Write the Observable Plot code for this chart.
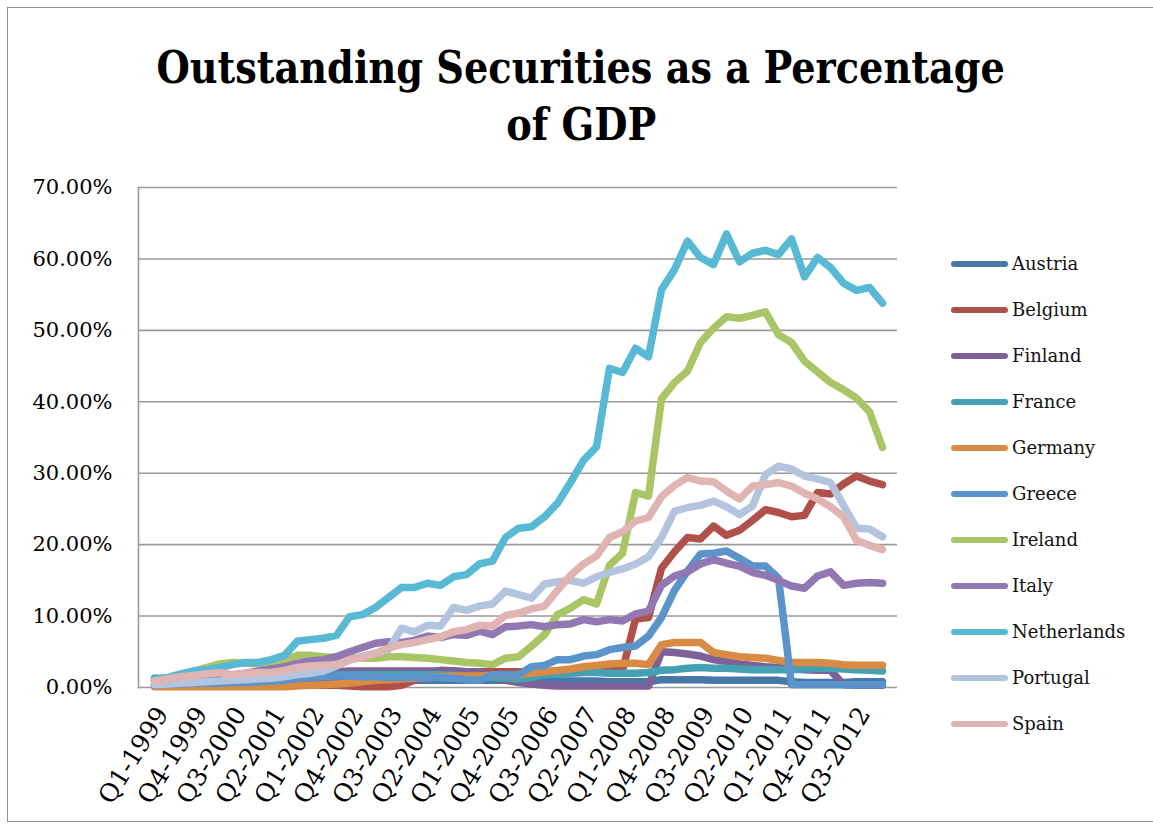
<!DOCTYPE html>
<html><head><meta charset="utf-8">
<script src="https://cdn.jsdelivr.net/npm/d3@7"></script>
<script src="https://cdn.jsdelivr.net/npm/@observablehq/plot@0.6"></script>
<style>
body{margin:0;background:#fff;}
#wrap{position:relative;width:1153px;height:827px;overflow:hidden;background:#fff;}
#border{position:absolute;left:7px;top:7px;width:1170px;height:815px;border:1.5px solid #8e8e8e;box-sizing:border-box;}
.tl{position:absolute;left:0;width:1162px;text-align:center;font-family:"DejaVu Serif",serif;font-weight:bold;font-size:44px;line-height:44px;white-space:nowrap;color:#000;}
.tl span{display:inline-block;transform-origin:center center;}
#chart{position:absolute;left:0;top:167px;}
.lg{position:absolute;left:951px;height:24px;font-family:"DejaVu Serif",serif;font-size:18px;color:#111;white-space:nowrap;}
.lg .sw{position:absolute;left:0;top:9px;width:57px;height:6px;border-radius:3px;}
.lg .tx{position:absolute;left:61px;top:0;line-height:24px;}
</style></head>
<body>
<div id="wrap">
  <div id="border"></div>
  <div class="tl" id="t1" style="top:46px"><span>Outstanding Securities as a Percentage</span></div>
  <div class="tl" id="t2" style="top:103px"><span>of GDP</span></div>
  <div id="chart"></div>
  <div id="legend"></div>
</div>
<script>
const quarters = ["Q1-1999","Q2-1999","Q3-1999","Q4-1999","Q1-2000","Q2-2000","Q3-2000","Q4-2000","Q1-2001","Q2-2001","Q3-2001","Q4-2001","Q1-2002","Q2-2002","Q3-2002","Q4-2002","Q1-2003","Q2-2003","Q3-2003","Q4-2003","Q1-2004","Q2-2004","Q3-2004","Q4-2004","Q1-2005","Q2-2005","Q3-2005","Q4-2005","Q1-2006","Q2-2006","Q3-2006","Q4-2006","Q1-2007","Q2-2007","Q3-2007","Q4-2007","Q1-2008","Q2-2008","Q3-2008","Q4-2008","Q1-2009","Q2-2009","Q3-2009","Q4-2009","Q1-2010","Q2-2010","Q3-2010","Q4-2010","Q1-2011","Q2-2011","Q3-2011","Q4-2011","Q1-2012","Q2-2012","Q3-2012","Q4-2012","Q1-2013"];
const xTickLabels = ["Q1-1999","Q4-1999","Q3-2000","Q2-2001","Q1-2002","Q4-2002","Q3-2003","Q2-2004","Q1-2005","Q4-2005","Q3-2006","Q2-2007","Q1-2008","Q4-2008","Q3-2009","Q2-2010","Q1-2011","Q4-2011","Q3-2012"];
const yTicks = [0,10,20,30,40,50,60,70];
const countries = ["Austria","Belgium","Finland","France","Germany","Greece","Ireland","Italy","Netherlands","Portugal","Spain"];
const colors = ["#4878a8","#b0504a","#7c6299","#45a0b4","#da8b43","#5b94cb","#a9c566","#9178b3","#57b9d3","#b2c4de","#e0b4b2"];

const austria = [1.0,1.0,0.9,0.9,0.9,0.9,0.9,0.9,0.9,0.9, 0.9,1.0,1.0,1.0,1.0,1.0,1.0,1.0,1.0,1.0, 1.0,1.0,1.0,1.0,1.0,1.0,1.0,1.0,1.0,1.0, 1.0,0.9,0.9,0.9,0.9,0.8,0.8,0.8,0.8,1.1, 1.1,1.1,1.1,1.0,1.0,1.0,1.0,1.0,1.0,0.8, 0.7,0.7,0.7,0.7,0.8,0.8,0.8];
const belgium = [0.3,0.3,0.3,0.3,0.3,0.3,0.3,0.3,0.3,0.3, 0.3,0.3,0.3,0.3,0.3,0.2,0.1,0.1,0.1,0.3, 1.0,2.0,2.4,2.3,2.2,2.2,2.2,2.2,2.2,2.2, 2.2,2.3,2.3,2.3,2.3,2.4,2.4,9.6,9.8,16.7, 19.0,21.0,20.8,22.6,21.3,22.0,23.4,24.9,24.5,23.9, 24.1,27.3,27.1,28.5,29.6,28.9,28.4];
const finland = [0.2,0.2,0.2,0.2,0.3,0.3,0.3,0.3,0.3,0.3, 0.3,0.4,0.5,1.0,2.2,2.3,2.3,2.3,2.3,2.3, 2.3,2.3,2.3,2.3,2.2,2.2,1.5,1.0,0.7,0.5, 0.3,0.2,0.2,0.2,0.2,0.2,0.2,0.2,0.2,5.0, 4.9,4.7,4.4,3.9,3.6,3.3,3.1,2.9,2.8,2.6, 2.5,2.4,2.4,0.4,0.3,0.3,0.3];
const france = [1.3,1.3,1.3,1.2,1.2,1.2,1.3,1.3,1.3,1.4, 1.5,1.6,1.7,1.7,1.8,1.8,1.8,1.8,1.8,1.8, 1.8,1.8,1.8,1.7,1.6,1.5,1.4,1.3,1.2,1.4, 1.8,1.9,2.0,2.1,2.1,2.0,2.0,2.0,2.1,2.4, 2.5,2.7,2.8,2.7,2.7,2.6,2.5,2.5,2.5,2.5, 2.6,2.7,2.7,2.6,2.5,2.4,2.3];
const germany = [0.1,0.1,0.1,0.1,0.1,0.1,0.1,0.1,0.1,0.1, 0.1,0.2,0.3,0.4,0.5,0.6,0.8,1.0,1.1,1.2, 1.3,1.4,1.5,1.6,1.6,1.6,1.7,1.7,1.8,2.0, 2.2,2.4,2.6,2.9,3.1,3.3,3.4,3.4,3.2,6.0, 6.3,6.3,6.3,4.9,4.6,4.3,4.2,4.1,3.8,3.5, 3.5,3.5,3.4,3.2,3.1,3.1,3.1];
const greece = [0.5,0.5,0.5,0.6,0.6,0.6,0.7,0.7,0.8,0.9, 1.0,1.3,1.4,1.5,1.6,1.6,1.5,1.5,1.4,1.4, 1.4,1.4,1.4,1.3,1.1,1.0,1.8,1.8,1.8,2.9, 3.1,3.9,3.9,4.4,4.6,5.3,5.6,5.8,7.2,9.8, 13.6,16.3,18.7,18.8,19.1,18.1,17.0,17.0,15.3,0.4, 0.4,0.4,0.4,0.4,0.4,0.4,0.4];
const ireland = [0.9,1.3,1.8,2.3,2.8,3.3,3.5,3.4,3.3,3.5, 3.9,4.5,4.5,4.3,4.2,4.2,4.1,4.1,4.3,4.3, 4.2,4.1,3.9,3.7,3.5,3.4,3.2,4.1,4.3,5.8, 7.4,10.2,11.1,12.3,11.7,17.1,18.8,27.3,26.8,40.4, 42.7,44.3,48.3,50.3,51.9,51.7,52.1,52.6,49.4,48.3, 45.7,44.2,42.7,41.7,40.5,38.6,33.6];
const italy = [0.3,0.5,0.8,1.0,1.3,1.6,1.8,2.0,2.3,2.6, 2.9,3.4,3.7,3.9,4.3,5.0,5.6,6.2,6.4,6.3, 6.6,7.2,7.0,7.4,7.3,7.9,7.4,8.5,8.6,8.8, 8.5,8.8,8.9,9.5,9.2,9.5,9.3,10.3,10.7,14.3, 15.6,16.2,17.3,17.9,17.4,17.0,16.1,15.7,15.0,14.2, 13.9,15.6,16.2,14.3,14.6,14.7,14.6];
const netherlands = [1.1,1.4,1.9,2.3,2.5,2.8,3.2,3.5,3.5,3.9, 4.5,6.5,6.7,6.9,7.3,9.9,10.2,11.2,12.6,14.0, 14.0,14.6,14.3,15.5,15.8,17.3,17.7,21.0,22.3,22.5, 23.9,25.8,28.7,31.8,33.7,44.7,44.1,47.5,46.3,55.7, 58.5,62.5,60.2,59.2,63.5,59.6,60.8,61.2,60.6,62.8, 57.5,60.2,58.8,56.6,55.6,56.0,53.8];
const portugal = [0.4,0.5,0.6,0.7,0.8,0.9,1.0,1.1,1.2,1.3, 1.5,1.8,2.0,2.3,3.0,3.8,4.4,4.8,5.3,8.3, 7.8,8.7,8.6,11.2,10.8,11.4,11.7,13.5,13.0,12.5, 14.5,14.8,15.0,14.6,15.5,16.1,16.6,17.3,18.3,21.0, 24.7,25.2,25.5,26.1,25.3,24.2,25.4,29.8,31.0,30.6, 29.6,29.2,28.7,25.5,22.3,22.2,21.1];
const spain = [0.9,1.2,1.5,1.7,1.9,2.1,1.8,2.0,2.1,2.1, 2.4,2.8,3.0,3.1,3.2,3.9,4.2,4.8,5.5,6.0, 6.3,6.7,7.1,7.8,8.1,8.7,8.6,10.1,10.4,11.0, 11.4,13.6,15.7,17.3,18.4,21.0,21.8,23.3,23.8,26.7, 28.3,29.4,28.9,28.8,27.5,26.4,28.2,28.4,28.7,28.2, 27.2,26.4,25.3,23.9,20.6,19.9,19.3];

const seriesList = [austria,belgium,finland,france,germany,greece,ireland,italy,netherlands,portugal,spain];
const rows = [];
countries.forEach((c, k) => seriesList[k].forEach((v, i) => rows.push({c, q: quarters[i], v})));

const chart = Plot.plot({
  width: 910, height: 643,
  marginLeft: 138, marginRight: 13, marginTop: 20, marginBottom: 123,
  style: {fontFamily: "'DejaVu Serif', serif", fontSize: "21px", color: "#000", background: "transparent", overflow: "visible"},
  x: {type: "point", domain: quarters, padding: 0.5},
  y: {domain: [0, 70]},
  color: {domain: countries, range: colors},
  marks: [
    Plot.gridY(yTicks, {stroke: "#9a9a9a", strokeOpacity: 1, strokeWidth: 1.6}),
    Plot.frame({anchor: "left", stroke: "#9a9a9a", strokeWidth: 1.6}),
    Plot.axisY(yTicks, {tickSize: 0, tickPadding: 26, tickFormat: d => d.toFixed(2) + "%", label: null}),
    Plot.axisX(xTickLabels, {tickSize: 0, tickPadding: 22, tickRotate: -58, fontSize: 25, dx: 8, label: null}),
    Plot.line(rows, {x: "q", y: "v", z: "c", stroke: "c", strokeWidth: 7.5, strokeLinejoin: "round", strokeLinecap: "round"})
  ]
});
document.getElementById("chart").appendChild(chart);

const lg = document.getElementById("legend");
countries.forEach((c, k) => {
  const d = document.createElement("div");
  d.className = "lg";
  d.style.top = (264 + 46 * k - 12) + "px";
  d.innerHTML = `<div class="sw" style="background:${colors[k]}"></div><div class="tx">${c}</div>`;
  lg.appendChild(d);
});

// fit title width to reference
const sx = 848 / document.querySelector("#t1 span").getBoundingClientRect().width;
document.querySelectorAll(".tl span").forEach(s => {
  s.style.transform = `scaleX(${sx.toFixed(3)})`;
});
</script>
</body></html>
